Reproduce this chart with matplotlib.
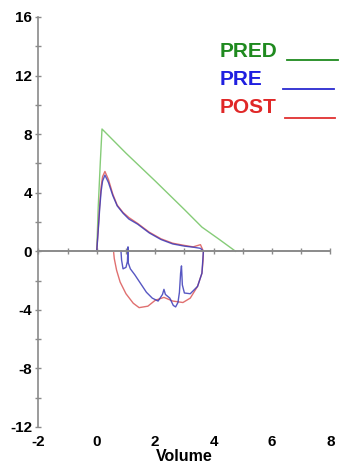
import numpy as np
import matplotlib
matplotlib.use('Agg')
import matplotlib.pyplot as plt
from matplotlib.lines import Line2D

plt.rcParams['font.family'] = ['Liberation Sans', 'DejaVu Sans']
plt.rcParams['axes.unicode_minus'] = False

# predicted flow-volume curve
pred_x = [0.0, 0.05, 0.12, 0.18, 1.0, 2.0, 3.0, 3.6, 4.2, 4.75]
pred_y = [0.0, 3.0, 6.0, 8.35, 6.7, 4.8, 2.85, 1.65, 0.8, 0.0]

# expiratory limb (pre and post nearly overlap)
exp_x = [0.0, 0.05, 0.1, 0.15, 0.2, 0.28, 0.4, 0.55, 0.7, 0.9, 1.1, 1.4, 1.8, 2.2, 2.6, 3.0, 3.3, 3.55, 3.65]
pre_exp_y = [0.0, 1.4, 2.9, 4.1, 4.8, 5.2, 4.7, 3.8, 3.1, 2.6, 2.2, 1.85, 1.25, 0.8, 0.5, 0.35, 0.28, 0.2, 0.0]
post_exp_y = [0.0, 1.5, 3.1, 4.4, 5.1, 5.45, 4.9, 3.9, 3.15, 2.65, 2.3, 1.9, 1.3, 0.85, 0.55, 0.4, 0.3, 0.45, 0.0]

# inspiratory limbs
pre_insp_x = [3.65, 3.63, 3.6, 3.45, 3.2, 3.0, 2.93, 2.9, 2.87, 2.83, 2.78, 2.7, 2.62, 2.5, 2.35, 2.3,
              2.25, 2.1, 1.9, 1.7, 1.5, 1.3, 1.15, 1.08, 1.07, 1.05, 1.0, 0.9, 0.85, 0.83]
pre_insp_y = [0.0, -0.6, -1.5, -2.4, -2.9, -2.85, -2.3, -1.0, -1.5, -2.8, -3.5, -3.8, -3.7, -3.2, -2.95, -2.6,
              -2.95, -3.4, -3.2, -2.8, -2.2, -1.6, -1.2, -0.8, 0.3, -0.7, -1.1, -1.2, -0.6, 0.0]
post_insp_x = [3.65, 3.64, 3.6, 3.45, 3.2, 2.95, 2.6, 2.3, 2.0, 1.75, 1.45, 1.25, 1.0, 0.8, 0.68, 0.6, 0.58]
post_insp_y = [0.0, -0.6, -1.5, -2.4, -3.2, -3.5, -3.4, -3.15, -3.35, -3.75, -3.85, -3.55, -2.9, -2.1, -1.3, -0.5, -0.1]

fig = plt.figure(figsize=(3.47, 4.69), dpi=100)
ax = fig.add_axes([0.1104, 0.0896, 0.842, 0.8742])

ax.plot(pred_x, pred_y, color='#86cc78', lw=1.0)
ax.plot(exp_x + post_insp_x, post_exp_y + post_insp_y, color='#e07070', lw=1.0)
ax.plot(exp_x + pre_insp_x, pre_exp_y + pre_insp_y, color='#3a3ab8', lw=1.0, alpha=0.85)

ax.set_xlim(-2, 8)
ax.set_ylim(-12, 16)

for s in ['top', 'right']:
    ax.spines[s].set_visible(False)
ax.spines['left'].set_color('#8a8a8a')
ax.spines['left'].set_linewidth(1.2)
ax.spines['bottom'].set_position(('data', 0))
ax.spines['bottom'].set_color('#8a8a8a')
ax.spines['bottom'].set_linewidth(1.4)

ax.set_yticks(np.arange(-12, 17, 4))
ax.set_yticks(np.arange(-12, 17, 2), minor=True)
ax.tick_params(axis='y', which='both', direction='inout', length=5, color='#8a8a8a', width=1)
ax.tick_params(axis='y', which='major', labelsize=11, pad=2)
for lab in ax.get_yticklabels():
    lab.set_fontweight('bold')

ax.set_xticks(np.arange(-2, 9, 1))
ax.tick_params(axis='x', direction='inout', length=5, color='#8a8a8a', width=1, labelbottom=False)

sec = ax.secondary_xaxis(0.0)
sec.spines['bottom'].set_visible(False)
sec.set_xticks(np.arange(-2, 9, 2))
sec.tick_params(length=0, labelsize=11, pad=6)
for lab in sec.get_xticklabels():
    lab.set_fontweight('bold')
sec.set_xlabel('Volume', fontsize=11.5, fontweight='bold', labelpad=0)

# legend drawn as text with trailing line segments
leg_names = ['PRED', 'PRE', 'POST']
leg_colors = ['#1f8a1f', '#1f1fe0', '#e02828']
leg_line_colors = ['#1f8a1f', '#2a2ad0', '#e03030']
leg_y = [57, 85, 113]
leg_line = [(287, 338, 60), (283, 334, 89), (285, 335, 118)]
W, H = 347.0, 469.0
for name, c, lc, yb, (x0, x1, yl) in zip(leg_names, leg_colors, leg_line_colors, leg_y, leg_line):
    fig.text(220 / W, 1 - yb / H, name, color=c, fontsize=15, fontweight='bold', va='baseline', ha='left')
    fig.lines.append(Line2D([x0 / W, x1 / W], [1 - yl / H, 1 - yl / H], color=lc, lw=1.3,
                            transform=fig.transFigure))

fig.savefig('out.png', dpi=100)
